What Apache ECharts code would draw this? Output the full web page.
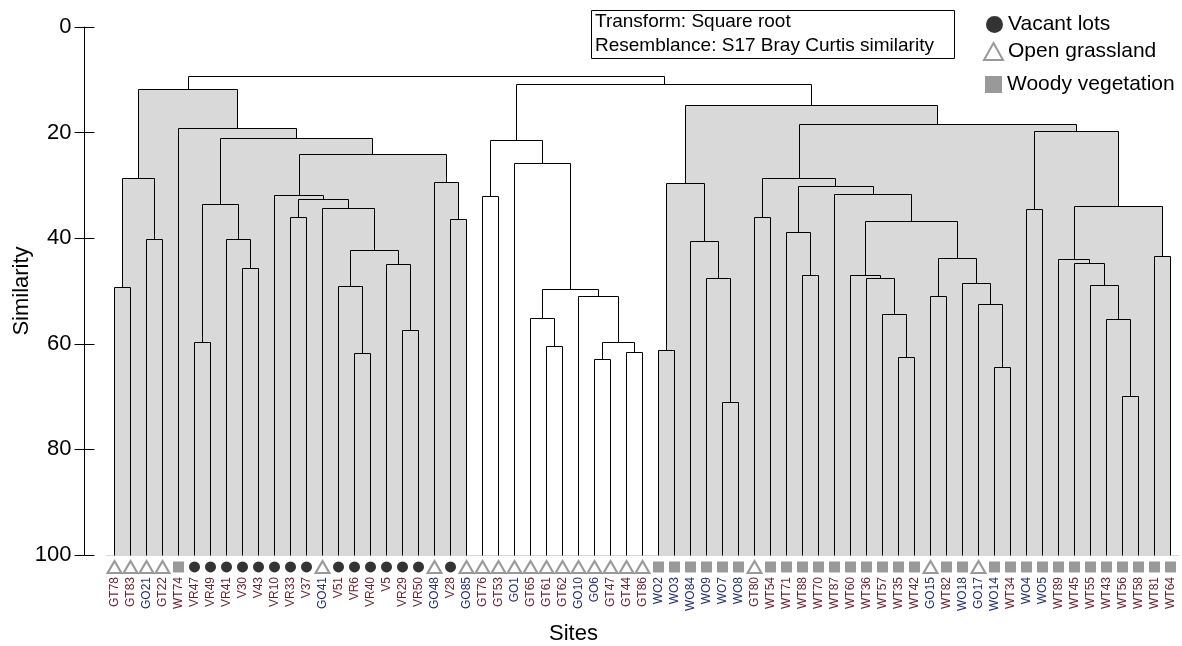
<!DOCTYPE html>
<html>
<head>
<meta charset="utf-8">
<script src="https://cdn.jsdelivr.net/npm/echarts@6/dist/echarts.min.js"></script>
<style>
html,body{margin:0;padding:0;background:#fff;}
#chart{width:1182px;height:646px;}
</style>
</head>
<body>
<div id="chart"></div>
<script>
// ---- DATA ----
const leaves = ['GT78','GT83','GO21','GT22','WT74','VR47','VR49','VR41','V30','V43',
  'VR10','VR33','V37','GO41','V51','VR6','VR40','V5','VR29','VR50',
  'GO48','V28','GO85','GT76','GT53','GO1','GT65','GT61','GT62','GO10',
  'GO6','GT47','GT44','GT86','WO2','WO3','WO84','WO9','WO7','WO8',
  'GT80','WT54','WT71','WT88','WT70','WT87','WT60','WT36','WT57','WT35',
  'WT42','GO15','WT82','WO18','GO17','WO14','WT34','WO4','WO5','WT89',
  'WT45','WT55','WT43','WT56','WT58','WT81','WT64'];

// V = Vacant lots, G = Open grassland, W = Woody vegetation
const siteType = ['G','G','G','G','W','V','V','V','V','V',
  'V','V','V','G','V','V','V','V','V','V',
  'G','V','G','G','G','G','G','G','G','G',
  'G','G','G','G','W','W','W','W','W','W',
  'G','W','W','W','W','W','W','W','W','W',
  'W','G','W','W','G','W','W','W','W','W',
  'W','W','W','W','W','W','W'];

const groupNames = {V:'Vacant lots', G:'Open grassland', W:'Woody vegetation'};

// merges: [left, right, similarity]; strings = leaves, numbers = earlier merge index
const merges = [
  ['GT78','GT83',49.3], ['GO21','GT22',40.3], [0,1,28.7],
  ['VR47','VR49',59.8], ['V30','V43',45.8], ['VR41',4,40.3], [3,5,33.6],
  ['VR33','V37',36.1], ['VR6','VR40',61.9], ['V51',8,49.2], ['VR29','VR50',57.4],
  ['V5',10,45.0], [9,11,42.4], ['GO41',12,34.4], [7,13,32.7], ['VR10',14,32.0],
  ['V28','GO85',36.5], ['GO48',16,29.4], [15,17,24.2], [6,18,21.1],
  ['WT74',19,19.2], [2,20,11.8],
  ['GT76','GT53',32.1], ['GT61','GT62',60.6], ['GT65',23,55.3], ['GO6','GT47',62.9],
  ['GT44','GT86',61.7], [25,26,59.8], ['GO10',27,51.1], [24,28,49.8], ['GO1',29,25.9],
  [22,30,21.5],
  ['WO2','WO3',61.3], ['WO7','WO8',71.2], ['WO9',33,47.7], ['WO84',34,40.6], [32,35,29.7],
  ['GT80','WT54',36.1], ['WT88','WT70',47.1], ['WT71',38,39.0], ['WT35','WT42',62.5],
  ['WT57',40,54.5], ['WT36',41,47.7], ['WT60',42,47.1], ['GO15','WT82',51.1],
  ['WO14','WT34',64.4], ['GO17',45,52.6], ['WO18',46,48.6], [44,47,43.9], [43,48,36.9],
  ['WT87',49,31.7], [39,50,30.2], [37,51,28.7], ['WO4','WO5',34.6], ['WT56','WT58',70.0],
  ['WT43',54,55.4], ['WT55',55,49.0], ['WT45',56,44.7], ['WT89',57,44.1], ['WT81','WT64',43.5],
  [58,59,34.0], [53,60,19.8], [52,61,18.4], [36,62,14.9],
  [31,63,10.8], [21,64,9.3]
];

const shadedClusters = [21, 63];
const yTicks = [0, 20, 40, 60, 80, 100];
const leafLevel = 100;
const markerLevel = 102.27;

// ---- BUILD ----
const nodes = [];
function ref(r){ return typeof r === 'string' ? {x: leaves.indexOf(r), h: leafLevel} : nodes[r]; }
const lineData = merges.map((m, i) => {
  const a = ref(m[0]), b = ref(m[1]);
  nodes[i] = {x: (a.x + b.x) / 2, h: m[2]};
  return [a.x, b.x, m[2], a.h, b.h];
});
const shadedSet = new Set();
function mark(i){ shadedSet.add(i); merges[i].slice(0,2).forEach(c => { if (typeof c === 'number') mark(c); }); }
shadedClusters.forEach(mark);
const fillData = lineData.filter((d, i) => shadedSet.has(i)).map(d => [d[0], d[1], d[2]]);

function snap(v){ return Math.floor(v) + 0.5; }
const font = "'Liberation Sans', Arial, sans-serif";

function markerSeries(code, symbol, size, itemStyle){
  return {
    type: 'scatter', name: groupNames[code], xAxisIndex: 1, yAxisIndex: 0,
    symbol: symbol, symbolSize: size, clip: false, silent: true, z: 5,
    itemStyle: itemStyle,
    data: siteType.map((t, i) => t === code ? [i, markerLevel] : null).filter(v => v)
  };
}

const chart = echarts.init(document.getElementById('chart'), null, {renderer: 'canvas'});
chart.setOption({
  animation: false,
  backgroundColor: '#fff',
  textStyle: {fontFamily: font},
  grid: {left: 106.5, right: 3.5, top: 27, bottom: 91, containLabel: false, outerBoundsMode: 'none'},
  xAxis: [{
    type: 'category', data: leaves, boundaryGap: true,
    axisTick: {show: false},
    axisLine: {show: true, onZero: false, lineStyle: {color: '#d9d9d9', width: 1}},
    axisLabel: {
      interval: 0, rotate: 90, fontSize: 12, margin: 22, fontFamily: font,
      color: (v) => v.charAt(1) === 'O' ? '#25307a' : '#6a1f2b'
    },
    splitLine: {show: false}
  }, {
    type: 'value', min: -0.5, max: leaves.length - 0.5, show: false,
    axisLine: {onZero: false}
  }],
  yAxis: [{
    type: 'value', inverse: true, min: yTicks[0], max: yTicks[yTicks.length-1], interval: 20,
    position: 'left', offset: 22,
    name: 'Similarity', nameLocation: 'middle', nameGap: 52, nameRotate: 90, nameMoveOverlap: false,
    nameTextStyle: {fontSize: 22, color: '#000', fontFamily: font},
    axisLine: {show: true, onZero: false, lineStyle: {color: '#000', width: 1}},
    axisTick: {show: true, length: 10, lineStyle: {color: '#000', width: 1}},
    axisLabel: {fontSize: 22, color: '#000', margin: 13, fontFamily: font},
    splitLine: {show: false}
  }, {
    type: 'value', inverse: true, min: yTicks[0], max: yTicks[yTicks.length-1], interval: 20,
    position: 'left', offset: 22,
    axisLine: {show: false, onZero: false},
    axisTick: {show: true, inside: true, length: 10, lineStyle: {color: '#000', width: 1}},
    axisLabel: {show: false},
    splitLine: {show: false}
  }],
  legend: [
    {data: ['Vacant lots'], left: 981, top: 9, orient: 'vertical', itemWidth: 17, itemHeight: 17,
     textStyle: {fontSize: 21, color: '#000', fontFamily: font}, selectedMode: false},
    {data: ['Open grassland'], left: 978, top: 36, orient: 'vertical', itemWidth: 19, itemHeight: 17,
     textStyle: {fontSize: 21, color: '#000', fontFamily: font}, selectedMode: false},
    {data: ['Woody vegetation'], left: 980, top: 69, orient: 'vertical', itemWidth: 17, itemHeight: 17,
     textStyle: {fontSize: 21, color: '#000', fontFamily: font}, selectedMode: false}
  ],
  graphic: [
    {type: 'rect', shape: {x: 591.5, y: 10.5, width: 363, height: 48},
     style: {fill: '#fff', stroke: '#000', lineWidth: 1}, z: 10},
    {type: 'text', x: 595, y: 12, z: 11,
     style: {text: 'Transform: Square root', font: "19px 'Liberation Sans', Arial, sans-serif", fill: '#000'}},
    {type: 'text', x: 595, y: 36, z: 11,
     style: {text: 'Resemblance: S17 Bray Curtis similarity', font: "19px 'Liberation Sans', Arial, sans-serif", fill: '#000'}},
    {type: 'text', x: 549, y: 623, z: 11,
     style: {text: 'Sites', font: "22px 'Liberation Sans', Arial, sans-serif", fill: '#000'}}
  ],
  series: [
    {
      type: 'custom', name: 'fill', xAxisIndex: 1, yAxisIndex: 0, silent: true, z: 1,
      encode: {x: [0, 1], y: [2]},
      data: fillData,
      renderItem: (params, api) => {
        const p1 = api.coord([api.value(0), api.value(2)]);
        const p2 = api.coord([api.value(1), leafLevel]);
        return {type: 'rect', shape: {x: p1[0], y: p1[1], width: p2[0] - p1[0], height: p2[1] - p1[1]},
                style: {fill: '#d9d9d9', stroke: null}};
      }
    },
    {
      type: 'custom', name: 'dendro', xAxisIndex: 1, yAxisIndex: 0, silent: true, z: 3,
      encode: {x: [0, 1], y: [2, 3, 4]},
      data: lineData,
      renderItem: (params, api) => {
        const xa = api.value(0), xb = api.value(1), s = api.value(2), ha = api.value(3), hb = api.value(4);
        const pts = [api.coord([xa, ha]), api.coord([xa, s]), api.coord([xb, s]), api.coord([xb, hb])]
          .map(p => [snap(p[0]), snap(p[1])]);
        return {type: 'polyline', shape: {points: pts}, style: {stroke: '#000', lineWidth: 1, fill: null}};
      }
    },
    markerSeries('V', 'circle', 11, {color: '#000'}),
    markerSeries('G', 'triangle', [14, 12], {color: '#fff', borderColor: '#808080', borderWidth: 2}),
    markerSeries('W', 'rect', 11, {color: '#808080'})
  ]
});
</script>
</body>
</html>
